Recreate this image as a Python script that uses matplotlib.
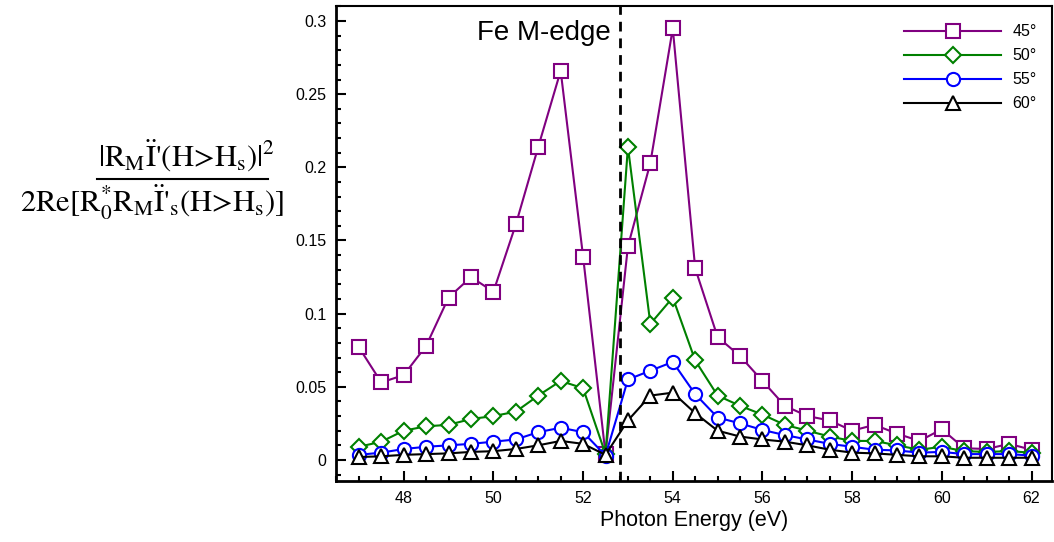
import matplotlib
matplotlib.use('Agg')
import matplotlib.pyplot as plt
from matplotlib.lines import Line2D
from matplotlib.ticker import MultipleLocator, FixedLocator

plt.rcParams['font.family'] = ['Liberation Sans', 'DejaVu Sans']
plt.rcParams['mathtext.fontset'] = 'stix'

energy = [47, 47.5, 48, 48.5, 49, 49.5, 50, 50.5, 51, 51.5, 52, 52.5, 53, 53.5, 54, 54.5,
          55, 55.5, 56, 56.5, 57, 57.5, 58, 58.5, 59, 59.5, 60, 60.5, 61, 61.5, 62]

a45 = [0.077, 0.053, 0.058, 0.078, 0.111, 0.125, 0.115, 0.161, 0.214, 0.266, 0.139, 0.004,
       0.146, 0.203, 0.295, 0.131, 0.084, 0.071, 0.054, 0.037, 0.030, 0.027, 0.020, 0.024,
       0.018, 0.013, 0.021, 0.008, 0.0075, 0.011, 0.007]
a50 = [0.009, 0.0125, 0.020, 0.023, 0.024, 0.028, 0.030, 0.033, 0.044, 0.054, 0.049, 0.004,
       0.214, 0.093, 0.111, 0.068, 0.044, 0.037, 0.031, 0.024, 0.020, 0.016, 0.013, 0.013,
       0.010, 0.007, 0.009, 0.006, 0.0055, 0.006, 0.005]
a55 = [0.0035, 0.005, 0.0075, 0.009, 0.010, 0.011, 0.0125, 0.014, 0.019, 0.022, 0.019, 0.003,
       0.055, 0.061, 0.067, 0.045, 0.029, 0.025, 0.0205, 0.017, 0.014, 0.011, 0.009, 0.007,
       0.0065, 0.005, 0.0055, 0.004, 0.004, 0.004, 0.003]
a60 = [0.002, 0.0025, 0.0035, 0.004, 0.0045, 0.0055, 0.006, 0.0075, 0.010, 0.013, 0.011, 0.0035,
       0.027, 0.044, 0.046, 0.032, 0.020, 0.016, 0.014, 0.0125, 0.010, 0.007, 0.005, 0.0045,
       0.0035, 0.0025, 0.0025, 0.0015, 0.0015, 0.0015, 0.0015]

labels = ['45\u00b0', '50\u00b0', '55\u00b0', '60\u00b0']
colors = ['#800080', '#008000', '#0000ff', '#000000']
markers = ['s', 'D', 'o', '^']
sizes = [9.5, 8, 9.5, 9.5]
edge_pos = 52.82

fig = plt.figure(figsize=(10.54, 5.42), dpi=100)
ax = fig.add_axes([0.3188, 0.1125, 0.679, 0.8765])

for y, lab, c, m, ms in zip([a45, a50, a55, a60], labels, colors, markers, sizes):
    ax.plot(energy, y, color=c, lw=1.5, marker=m, ms=ms, mfc='white', mec=c, mew=1.5, label=lab)

ax.axvline(edge_pos, color='black', lw=2, ls=(0, (3.5, 2.5)))
ax.text(52.62, 0.287, 'Fe M-edge', fontsize=20, ha='right', va='baseline')

ax.set_xlim(46.49, 62.45)
ax.set_ylim(-0.0144, 0.3103)
ax.xaxis.set_major_locator(MultipleLocator(2))
ax.xaxis.set_minor_locator(FixedLocator([x / 2 for x in range(93, 125)] + [edge_pos]))
ax.yaxis.set_major_locator(MultipleLocator(0.05))
ax.yaxis.set_minor_locator(MultipleLocator(0.01))
ax.set_yticks([0, 0.05, 0.1, 0.15, 0.2, 0.25, 0.3])
ax.set_yticklabels(['0', '0.05', '0.1', '0.15', '0.2', '0.25', '0.3'])
ax.tick_params(which='both', direction='in', top=False, right=False, labelsize=11.5, width=1.5)
ax.tick_params(which='major', length=7, pad=7)
ax.tick_params(which='minor', length=3.5)
for s in ['left', 'bottom']:
    ax.spines[s].set_linewidth(2)
for s in ['top', 'right']:
    ax.spines[s].set_linewidth(1.5)

ax.set_xlabel('Photon Energy (eV)', fontsize=15.5, labelpad=3)

ax.legend(loc='upper right', frameon=False, fontsize=11.5, handlelength=6.1,
          handletextpad=0.7, labelspacing=0.56, bbox_to_anchor=(0.995, 0.985), borderaxespad=0.3)

# y label drawn as a fraction
fig.text(0.1774, 0.695, r"$\text{|R}_{\mathrm{M}}\text{Ï'(H>H}_{\mathrm{s}}\text{)|}^{2}$",
         fontsize=22, ha='center', va='baseline')
fig.text(0.144, 0.610,
         r"$\text{2Re[R}_{\mathrm{0}}^{*}\text{R}_{\mathrm{M}}\text{Ï'}_{\mathrm{s}}\text{(H>H}_{\mathrm{s}}\text{)]}$",
         fontsize=22, ha='center', va='baseline')
fig.add_artist(Line2D([0.092, 0.254], [0.6697, 0.6697], color='black', lw=1.5))

fig.savefig('out.png', dpi=100)
